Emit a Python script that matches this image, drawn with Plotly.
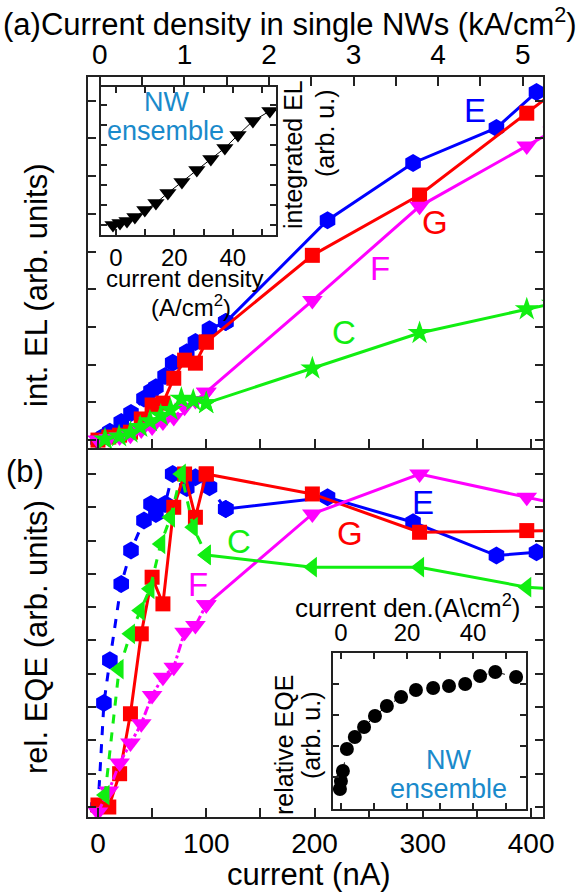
import plotly.graph_objects as go

# ---------------- data ----------------
# main x: current (nA); y: arbitrary units (tick units)
E_x = [0, 5.5, 11, 21.5, 30.5, 42.5, 49, 53.5, 62, 69, 82, 90, 103, 118, 212, 291, 368, 405]
E_el = [0, 0.1, 0.22, 0.48, 0.72, 1.1, 1.3, 1.4, 1.7, 2.05, 2.33, 2.6, 2.94, 3.13, 5.83, 7.35, 8.28, 9.23]
E_eqe = [0, 3.12, 4.41, 6.7, 7.7, 8.6, 9.1, 8.8, 9.1, 10.0, 9.58, 9.9, 9.6, 8.95, 9.3, 8.55, 7.55, 7.65]

G_x = [0, 10, 20, 30, 40, 50, 60, 70, 80, 90, 100, 198, 297, 396, 420]
G_el = [0, 0.08, 0.13, 0.21, 0.56, 0.93, 0.98, 1.64, 2.12, 2.04, 2.6, 4.9, 6.5, 8.67, 9.2]
G_eqe = [0.06, 0, 1.0, 2.8, 5.2, 6.9, 6.1, 9.0, 10.0, 8.7, 10.0, 9.4, 8.25, 8.3, 8.3]

F_x = [0, 10, 20, 30, 40, 50, 60, 70, 80, 90, 100, 198, 297, 396, 420]
F_el = [0, 0.04, 0.08, 0.13, 0.27, 0.35, 0.48, 0.6, 0.87, 1.05, 1.27, 3.7, 6.2, 7.8, 8.19]
F_eqe = [-0.15, 0.48, 1.32, 1.92, 2.5, 3.35, 3.9, 4.2, 5.25, 5.45, 6.07, 8.8, 10.0, 9.3, 9.13]

C_x = [6.5, 19.5, 30, 39, 48, 58, 67, 77, 88, 100, 198, 297, 396, 420]
C_el = [0.02, 0.1, 0.2, 0.35, 0.5, 0.65, 0.8, 1.1, 1.05, 0.98, 1.9, 2.84, 3.47, 3.62]
C_eqe = [0.36, 4.14, 5.2, 5.9, 6.55, 7.9, 8.7, 10.0, 8.4, 7.57, 7.2, 7.2, 6.6, 6.55]

# top axis of panel (a): current density in single NWs (kA/cm2)
density_ticks = [0, 1, 2, 3, 4, 5]

# inset (a): NW ensemble integrated EL vs current density (A/cm2)
insA_x = [-1, 1.4, 3.8, 6.5, 9.9, 13.7, 17.8, 22.6, 27.7, 32.5, 37.3, 41.8, 46.9, 52.7]
insA_y = [10, 12, 14, 18, 25, 32, 42, 53, 65, 76, 87, 100, 114, 124]

# inset (b): NW ensemble relative EQE vs current density (A/cm2)
insB_x = [-0.3, 0, 0.6, 1.8, 4.2, 7, 10.3, 13.9, 18.2, 22.7, 27.9, 32.7, 37.6, 42.1, 46.7, 53.0]
insB_y = [20, 28, 38, 60, 72, 82, 93, 103, 112, 119, 121, 123, 125, 133, 137, 132]

series = [
    dict(name="E", x=E_x, el=E_el, eqe=E_eqe, color="#0000ff", sym_el="hexagon", sym_eqe="hexagon",
         dash="dash", size=18),
    dict(name="G", x=G_x, el=G_el, eqe=G_eqe, color="#ff0000", sym_el="square", sym_eqe="square",
         dash="solid", size=15),
    dict(name="F", x=F_x, el=F_el, eqe=F_eqe, color="#ff00ff", sym_el="triangle-down", sym_eqe="triangle-down",
         dash="dashdot", size=18),
    dict(name="C", x=C_x, el=C_el, eqe=C_eqe, color="#11ee11", sym_el="star", sym_eqe="triangle-left",
         dash="dash", size=18),
]

FONT = "Liberation Sans, Arial, sans-serif"
W, H = 577, 893
L, R, T, B = 88, 543, 77, 817
SPLIT = 448


def px(x):
    return (x - L) / (R - L)


def py(y):
    return (B - y) / (B - T)


fig = go.Figure()

for s in series:
    xs = s["x"]
    k = max(i for i, v in enumerate(xs) if v <= 120)
    for ykey, yax, xax, sym in (("el", "y2", "x2", s["sym_el"]), ("eqe", "y", "x", s["sym_eqe"])):
        ys = s[ykey]
        fig.add_trace(go.Scatter(x=xs[:k + 1], y=ys[:k + 1], xaxis=xax, yaxis=yax, mode="lines+markers",
                                 line=dict(color=s["color"], width=3, dash=s["dash"]),
                                 marker=dict(symbol=sym, size=s["size"], color=s["color"], line=dict(width=0)),
                                 showlegend=False))
        fig.add_trace(go.Scatter(x=xs[k:], y=ys[k:], xaxis=xax, yaxis=yax, mode="lines+markers",
                                 line=dict(color=s["color"], width=3),
                                 marker=dict(symbol=sym, size=s["size"], color=s["color"], line=dict(width=0)),
                                 showlegend=False))

# empty trace so that the top density axis of panel (a) is drawn
fig.add_trace(go.Scatter(x=[None], y=[None], xaxis="x3", yaxis="y2", mode="markers",
                         showlegend=False, hoverinfo="skip"))

# insets
fig.add_trace(go.Scatter(x=insA_x, y=insA_y, xaxis="x4", yaxis="y4", mode="lines+markers",
                         line=dict(color="black", width=1),
                         marker=dict(symbol="triangle-down", size=15, color="black"), showlegend=False))
fig.add_trace(go.Scatter(x=insB_x, y=insB_y, xaxis="x5", yaxis="y5", mode="lines+markers",
                         line=dict(color="black", width=1, dash="dash"),
                         marker=dict(symbol="circle", size=14, color="black"), showlegend=False))

frame = dict(showline=True, linecolor="#222", linewidth=2, ticks="inside", tickcolor="#222",
             tickwidth=1.5, showgrid=False, zeroline=False)
minor_kw = dict(ticks="inside", tickwidth=1.5, tickcolor="#222")
yb = py(SPLIT)

fig.update_layout(
    width=W, height=H, margin=dict(l=L, r=W - R, t=T, b=H - B, pad=0),
    paper_bgcolor="white", plot_bgcolor="white",
    font=dict(family=FONT, color="black", size=28),
    xaxis=dict(**frame, domain=[0, 1], anchor="y", range=[-9.2, 411], tickvals=[0, 100, 200, 300, 400],
               ticklen=9, tickfont=dict(size=28), minor=dict(dtick=50, ticklen=9, **minor_kw)),
    yaxis=dict(**frame, domain=[0, yb], anchor="x", range=[-0.3, 10.78], dtick=1, tick0=0,
               showticklabels=False, mirror="ticks", ticklen=8),
    xaxis2=dict(**frame, domain=[0, 1], anchor="y2", range=[-9.2, 411], tickvals=[0, 100, 200, 300, 400],
                showticklabels=False, ticklen=9, minor=dict(dtick=50, ticklen=9, **minor_kw)),
    yaxis2=dict(**frame, domain=[yb, 1], anchor="x2", range=[-0.21, 9.63], dtick=1, tick0=0,
                showticklabels=False, mirror="ticks", ticklen=8),
    xaxis3=dict(**frame, overlaying="x2", anchor="y2", side="top", range=[-0.14, 5.24],
                tickvals=density_ticks, ticklen=9, tickfont=dict(size=28), showticklabels=True,
                minor=dict(dtick=0.5, ticklen=9, **minor_kw)),
    xaxis4=dict(**frame, domain=[px(101), px(276)], anchor="y4", range=[-5.1, 54.8], tickvals=[0, 20, 40],
                mirror="ticks", ticklen=6, tickfont=dict(size=24),
                minor=dict(dtick=10, ticklen=6, **minor_kw)),
    yaxis4=dict(**frame, domain=[py(235), py(87)], anchor="x4", range=[0, 148], dtick=20, tick0=10,
                showticklabels=False, mirror="ticks", ticklen=6),
    xaxis5=dict(**frame, domain=[px(333), px(526)], anchor="y5", side="top", range=[-2.4, 56], tickvals=[0, 20, 40],
                mirror="ticks", ticklen=6, tickfont=dict(size=24),
                minor=dict(dtick=10, ticklen=6, **minor_kw)),
    yaxis5=dict(**frame, domain=[py(809), py(653)], anchor="x5", range=[0, 156], dtick=31, tick0=32,
                showticklabels=False, mirror="ticks", ticklen=6),
)

anns = []


def txt(t, x, y, size, color="black", angle=0):
    anns.append(dict(text=t, x=px(x), y=py(y), xref="paper", yref="paper", showarrow=False,
                     xanchor="center", yanchor="middle", textangle=angle,
                     font=dict(family=FONT, size=size, color=color)))


txt("(a)Current density in single NWs (kA/cm<sup>2</sup>)", 290, 22, 31)
txt("(b)", 25, 471, 31)
txt("int. EL (arb. units)", 36, 285, 31, angle=-90)
txt("rel. EQE (arb. units)", 36, 637, 31, angle=-90)
txt("current (nA)", 309, 874, 31)

txt("E", 475, 110, 33, "#0000ff")
txt("G", 435, 222, 33, "#ff0000")
txt("F", 380, 268, 33, "#ff00ff")
txt("C", 344, 332, 33, "#11ee11")
txt("E", 423, 502, 33, "#0000ff")
txt("G", 350, 533, 33, "#ff0000")
txt("C", 239, 541, 33, "#11ee11")
txt("F", 198, 584, 33, "#ff00ff")

NWC = "#1a8acb"
txt("NW", 166, 102, 27, NWC)
txt("ensemble", 165, 131, 27, NWC)
txt("current density", 184, 278, 24)
txt("(A/cm<sup>2</sup>)", 191, 306, 24)
txt("integrated EL", 293, 155, 25, angle=-90)
txt("(arb. u.)", 325, 133, 25, angle=-90)

txt("current den.(A\\cm<sup>2</sup>)", 407, 606, 26)
txt("relative EQE", 284, 745, 25, angle=-90)
txt("(arb. u.)", 311, 735, 25, angle=-90)
txt("NW", 448, 760, 27, NWC)
txt("ensemble", 448, 789, 27, NWC)

fig.update_layout(annotations=anns)
fig.write_html("out.html")
